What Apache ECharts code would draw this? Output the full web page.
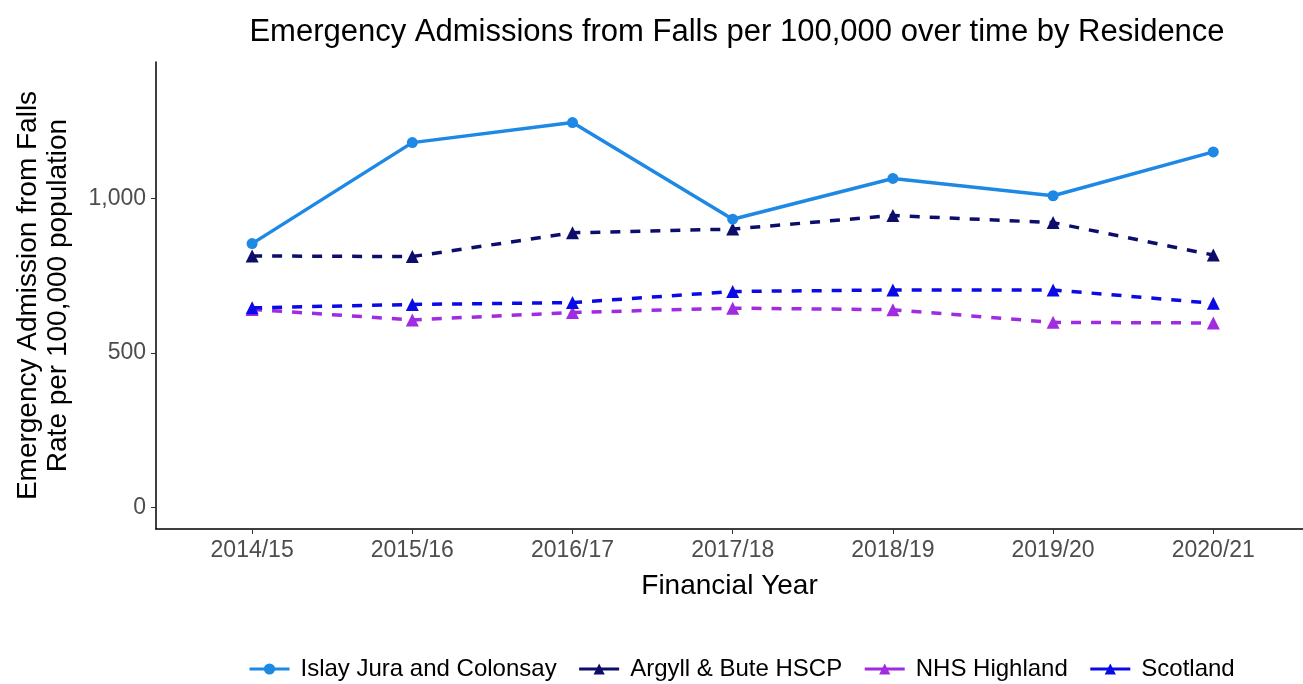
<!DOCTYPE html>
<html>
<head>
<meta charset="utf-8">
<script src="https://cdn.jsdelivr.net/npm/echarts@6/dist/echarts.min.js"></script>
<style>
  html, body { margin: 0; padding: 0; background: #fff; }
  #chart { width: 1303px; height: 684px; }
</style>
</head>
<body>
<div id="chart"></div>
<script>
const years = ['2014/15', '2015/16', '2016/17', '2017/18', '2018/19', '2019/20', '2020/21']
const islay = [854, 1181, 1246, 933, 1065, 1009, 1151]
const argyll = [814, 812, 889, 901, 945, 922, 817]
const highland = [641, 607, 631, 645, 640, 599, 597]
const scotland = [646, 657, 663, 699, 704, 704, 661]
const yTicks = [0, 500, 1000]

const chart = echarts.init(document.getElementById('chart'))

function mkSeries(name, values, color, symbol, dashed) {
  return {
    name: name,
    type: 'line',
    data: values.map((v, i) => [i, v]),
    symbol: symbol,
    symbolSize: symbol === 'circle' ? 11 : 13,
    itemStyle: { color: color },
    lineStyle: { width: 3.5, color: color, type: dashed ? [10, 10] : 'solid' },
    z: dashed ? 2 : 3
  }
}

chart.setOption({
  animation: false,
  textStyle: { fontFamily: 'Liberation Sans, Arial, sans-serif' },
  title: {
    text: 'Emergency Admissions from Falls per 100,000 over time by Residence',
    left: 732,
    textAlign: 'center',
    top: 12,
    textStyle: { fontSize: 31, fontWeight: 'normal', color: '#000' }
  },
  legend: {
    top: 652,
    left: 243,
    itemWidth: 40,
    itemHeight: 14,
    itemGap: 21,
    lineStyle: { type: 'solid', width: 3 },
    textStyle: { fontSize: 24, color: '#000', padding: [0, 0, 0, 6] },
    data: ['Islay Jura and Colonsay', 'Argyll & Bute HSCP', 'NHS Highland', 'Scotland']
  },
  grid: { left: 156, right: 0, top: 62, bottom: 155 },
  xAxis: {
    type: 'value',
    min: -0.6,
    max: 6.56,
    name: 'Financial Year',
    nameLocation: 'middle',
    nameGap: 43,
    nameTextStyle: { fontSize: 28, color: '#000' },
    axisLine: { show: true, onZero: false, lineStyle: { color: '#000', width: 1.5 } },
    axisTick: { show: true, customValues: years.map((y, i) => i), length: 5, lineStyle: { color: '#333' } },
    axisLabel: {
      customValues: years.map((y, i) => i),
      formatter: v => years[Math.round(v)],
      fontSize: 23, color: '#4d4d4d', margin: 10
    },
    splitLine: { show: false }
  },
  yAxis: {
    type: 'value',
    min: -70,
    max: 1442,
    name: 'Emergency Admission from Falls\nRate per 100,000 population',
    nameLocation: 'middle',
    nameRotate: 90,
    nameGap: 83,
    nameTextStyle: { fontSize: 28, color: '#000', lineHeight: 30 },
    axisLine: { show: true, onZero: false, lineStyle: { color: '#000', width: 1.5 } },
    axisTick: { show: true, customValues: yTicks, length: 5, lineStyle: { color: '#333' } },
    axisLabel: {
      customValues: yTicks,
      formatter: v => v.toLocaleString('en-GB'),
      fontSize: 23, color: '#4d4d4d', margin: 10
    },
    splitLine: { show: false }
  },
  series: [
    mkSeries('Islay Jura and Colonsay', islay, '#1E88E5', 'circle', false),
    mkSeries('Argyll & Bute HSCP', argyll, '#0D0D6B', 'triangle', true),
    mkSeries('NHS Highland', highland, '#A02BE0', 'triangle', true),
    mkSeries('Scotland', scotland, '#0A0AE6', 'triangle', true)
  ]
})
</script>
</body>
</html>
